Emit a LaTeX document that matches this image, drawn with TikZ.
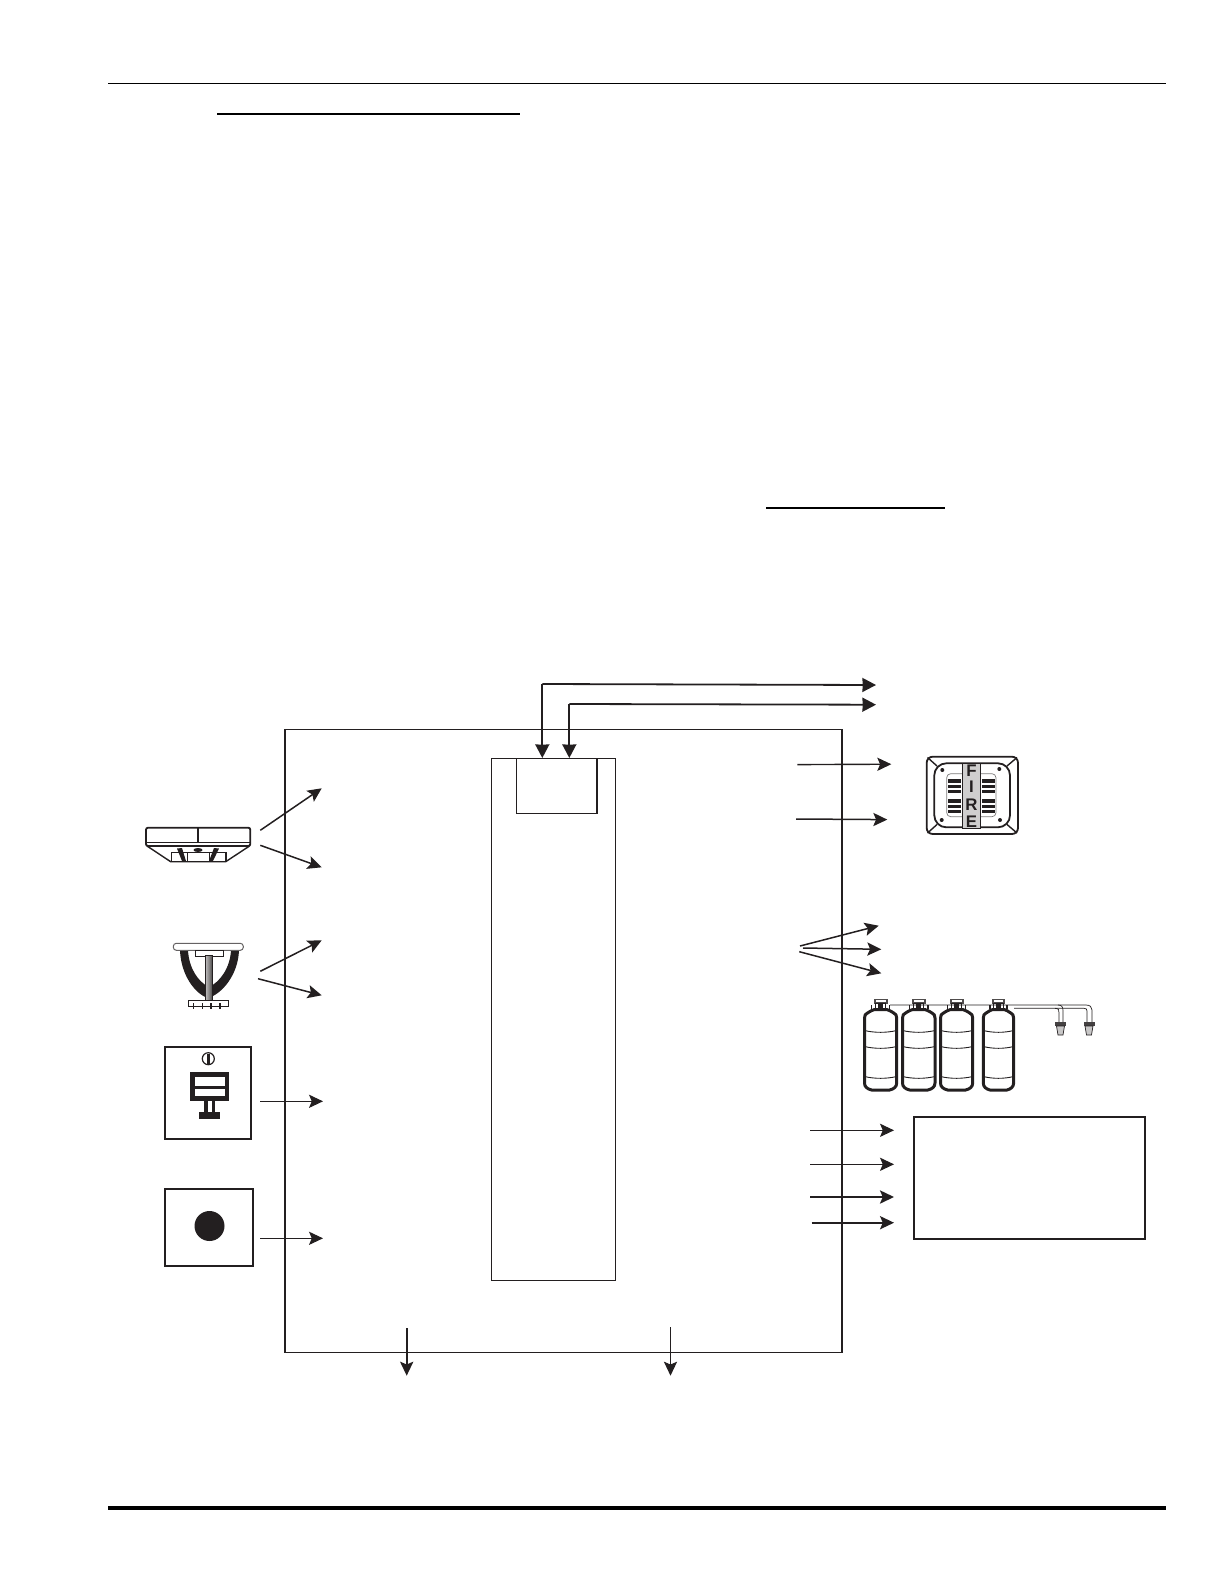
\documentclass[tikz,border=0pt]{standalone}
\usepackage{fontspec}
\setmainfont{Liberation Sans}
\usetikzlibrary{arrows.meta,calc}
\definecolor{ink}{HTML}{231F20}
\tikzset{
  boxa/.style={draw=ink,line width=1pt,fill=white,inner sep=0pt,anchor=north west},
  boxb/.style={draw=ink,line width=0.55pt,inner sep=0pt,anchor=north west},
  arr/.style={draw=ink,line width=0.55pt,-{Stealth[length=7pt,width=6.6pt,inset=1.4pt]}},
  arrb/.style={draw=ink,line width=0.9pt,-{Stealth[length=7pt,width=6.6pt,inset=1.4pt]}},
  arrbig/.style={draw=ink,line width=0.9pt,-{Stealth[length=6.8pt,width=7pt,inset=0.2pt]}},
  rulei/.style={draw=black,line width=1pt},
  lett/.style={font=\bfseries\fontsize{8.4}{8.4}\selectfont,text=ink,inner sep=0pt},
  tankl/.style={draw=ink,line width=1.5pt,line join=round},
  pipe/.style={draw=ink,line width=0.35pt},
}
\newcommand{\tankat}[2]{% left x, width
  \begin{scope}[shift={(#1,0)},x=#2*0.5pt/32]
    \draw[tankl] (3,1013) .. controls (6,1011) and (8,1010) .. (10,1009.5) -- (22,1009.5) .. controls (24,1010) and (26,1011) .. (29,1013) .. controls (31,1014) and (32,1015) .. (32,1018)
      -- (32,1083) .. controls (32,1087) and (29,1089) .. (25,1090) -- (7,1090) .. controls (3,1089) and (0,1087) .. (0,1083)
      -- (0,1018) .. controls (0,1015) and (1,1014) .. (3,1013) -- cycle;
    \foreach \yy in {1030.5,1046.5,1076.5}
      \draw[pipe,line width=.45pt] (0,\yy) .. controls (10,\yy+2.4) and (22,\yy+2.4) .. (32,\yy);
    \fill[ink!80] (9,999) rectangle (23,1003.5);
    \fill[white] (11,1000) rectangle (21,1001.6);
    \draw[draw=ink,line width=.6pt,fill=white] (11,1003.5) rectangle (21,1009);
    \fill[ink] (13.5,1003.5) rectangle (18.5,1009);
    \draw[draw=ink,line width=.6pt] (7,1005) -- (7,1009) (25,1005) -- (25,1009);
  \end{scope}}
\newcommand{\nozzleat}[1]{%
  \begin{scope}[shift={(#1,0)}]
    \fill[ink!85] (-5.5,1022) rectangle (5.5,1026);
    \draw[ink,line width=.35pt,fill=ink!25] (-4,1026) -- (-2.5,1035) -- (2.5,1035) -- (4,1026) -- cycle;
  \end{scope}}
\begin{document}
\begin{tikzpicture}[x=0.5pt,y=-0.5pt]
\useasboundingbox (0,0) rectangle (1224,1584);

% page rules
\coordinate (ra) at (108,83.3); \coordinate (rb) at (1166,83.3);
\draw[draw=black,line width=.6pt] (ra) -- (rb);
\coordinate (ua) at (217,113.7); \coordinate (ub) at (520,113.7);
\draw[rulei] (ua) -- (ub);
\coordinate (va) at (766,507.7); \coordinate (vb) at (945,507.7);
\draw[rulei] (va) -- (vb);
\coordinate (wa) at (108,1508); \coordinate (wb) at (1166,1508);
\draw[draw=black,line width=2.2pt] (wa) -- (wb);

% control panel
\node[boxb,minimum width=278pt,minimum height=311.5pt] (panel) at (285,729.3) {};
\draw[draw=ink,line width=1.2pt] (panel.north west) -- (panel.south west);
\draw[draw=ink,line width=1.1pt] (panel.north east) -- (panel.south east);
\node[boxb,minimum width=62pt,minimum height=260.7pt] (inner) at (490.7,758.3) {};
\node[boxb,minimum width=40.2pt,minimum height=27.5pt] (cpu) at (516,758.3) {};

% top arrows
\coordinate (t1a) at (542.3,758); \coordinate (t1b) at (876,685);
\coordinate (t2a) at (569.3,758); \coordinate (t2b) at (876,704.7);
\draw[arrbig] (542.3,684) -- (t1b);
\draw[arrbig] (542.3,684) -- (t1a);
\draw[arrbig] (569.3,704) -- (t2b);
\draw[arrbig] (569.3,704) -- (t2a);

% right arrows to horn
\coordinate (h1a) at (797.3,764.6); \coordinate (h1b) at (891.3,764.2);
\coordinate (h2a) at (796,819); \coordinate (h2b) at (887.3,819.6);
\draw[arrb,line width=.7pt] (h1a) -- (h1b);
\draw[arrb,line width=.75pt] (h2a) -- (h2b);

% fan
\coordinate (f1a) at (800,946); \coordinate (f1b) at (878.7,925.7);
\coordinate (f2a) at (803,948); \coordinate (f2b) at (881.3,949.3);
\coordinate (f3a) at (799.3,951.7); \coordinate (f3b) at (881.3,973.3);
\draw[arrb,line width=.75pt] (f1a) -- (f1b);
\draw[arrb,line width=.75pt] (f2a) -- (f2b);
\draw[arrb,line width=.75pt] (f3a) -- (f3b);

% right box and arrows
\node[boxa,minimum width=115.7pt,minimum height=61.2pt] (relay) at (912.6,1116) {};
\coordinate (r1a) at (810,1130.3); \coordinate (r1b) at (894,1130.3);
\coordinate (r2a) at (810,1164.3); \coordinate (r2b) at (894,1164.3);
\coordinate (r3a) at (810,1197); \coordinate (r3b) at (894,1197);
\coordinate (r4a) at (811.7,1222.7); \coordinate (r4b) at (894,1222.7);
\draw[arr] (r1a) -- (r1b);
\draw[arr] (r2a) -- (r2b);
\draw[arrb,line width=1.1pt] (r3a) -- (r3b);
\draw[arrb,line width=.8pt] (r4a) -- (r4b);

% bottom arrows
\coordinate (b1a) at (406.7,1328); \coordinate (b1b) at (406.7,1375.7);
\coordinate (b2a) at (670.5,1327); \coordinate (b2b) at (670.5,1375.7);
\draw[arrb] (b1a) -- (b1b);
\draw[arr] (b2a) -- (b2b);

% left arrows
\coordinate (d1a) at (260.3,830.3); \coordinate (d1b) at (321.7,788.3);
\coordinate (d2a) at (260.3,845.3); \coordinate (d2b) at (321.7,867.3);
\coordinate (s1a) at (260.3,971.3); \coordinate (s1b) at (321.7,940.3);
\coordinate (s2a) at (258,978.7); \coordinate (s2b) at (321.7,995.3);
\draw[arrb,line width=.75pt] (d1a) -- (d1b);
\draw[arrb,line width=.75pt] (d2a) -- (d2b);
\draw[arrb,line width=.75pt] (s1a) -- (s1b);
\draw[arrb,line width=.75pt] (s2a) -- (s2b);
\coordinate (p1a) at (260,1101.3); \coordinate (p1b) at (323,1101.3);
\coordinate (p2a) at (260,1238.3); \coordinate (p2b) at (323,1238.3);
\draw[arr] (p1a) -- (p1b);
\draw[arr] (p2a) -- (p2b);

% smoke detector
\draw[draw=ink,line width=.9pt,rounded corners=1pt] (146,827.7) rectangle (250.3,846);
\draw[draw=ink,line width=.8pt] (146,842.3) -- (250.3,842.3);
\draw[draw=ink,line width=1.1pt] (198,827.7) -- (198,842.3);
\draw[draw=ink,line width=.7pt] (147,846) -- (170.7,861.7) -- (225.7,861.7) -- (249.5,846);
\draw[draw=ink,line width=.7pt] (171.7,852.7) rectangle (226,861.7);
\draw[draw=ink,line width=.5pt] (187,852.7) -- (187,861.7) (209,852.7) -- (209,861.7);
\fill[ink] (177,848.5) -- (182,848) -- (186,861) -- (182,861) -- cycle;
\fill[ink] (219,848.5) -- (214,848) -- (209,861) -- (213,861) -- cycle;
\fill[ink] (198,850) ellipse[x radius=4.5,y radius=2];
\draw[draw=ink,line width=.3pt] (185,852) -- (211,852);

% sprinkler
\fill[ink] (180,950.5) .. controls (181,975) and (195,994) .. (208,998)
  .. controls (222,994) and (238,975) .. (239,950.5) -- (231,950.5)
  .. controls (230,968) and (220,982) .. (209,987)
  .. controls (198,982) and (189,968) .. (188,950.5) -- cycle;
\draw[draw=ink!70,line width=.5pt,fill=white,rounded corners=1.5pt] (173.3,943.3) rectangle (243.3,950.3);
\draw[draw=ink,line width=.5pt,fill=white] (195.3,950.3) rectangle (223.7,956.7);
\shade[left color=ink!30,right color=ink!85,middle color=ink!55] (205.3,955) rectangle (212.7,1001.3);
\draw[draw=ink,line width=.3pt] (205.3,955) rectangle (212.7,1001.3);
\draw[draw=ink,line width=.6pt,fill=white] (188.3,1000.3) rectangle (228.3,1006.7);
\foreach \xx in {193.3,202.3,210.7,220}
  \draw[draw=ink,line width=.8pt] (\xx,1003) -- (\xx,1008.5);

% pull station
\node[boxa,minimum width=43pt,minimum height=46.2pt] (pull) at (164.3,1046) {};
\draw[draw=ink,line width=.6pt] (208.3,1058.7) circle[radius=6];
\fill[ink] (206.5,1053.5) rectangle (210,1064);
\fill[ink] (190.3,1072) rectangle (229,1100.7);
\fill[white] (194.7,1077) rectangle (224.7,1085.7);
\fill[white] (194.7,1089) rectangle (224.7,1096.3);
\fill[ink] (203.7,1100.7) rectangle (215.3,1111.7);
\fill[white] (208.3,1100.7) rectangle (211.7,1111.7);
\fill[ink] (199,1111.7) rectangle (220,1118.7);

% button
\node[boxa,minimum width=44pt,minimum height=38.7pt] (btn) at (164.3,1188) {};
\fill[ink] (209.5,1226) circle[radius=15];

% horn
\draw[draw=ink,line width=.9pt,rounded corners=3pt] (926.7,756.7) rectangle (1018,834);
\draw[draw=ink,line width=.9pt,rounded corners=6pt] (934.3,763.3) rectangle (1010,827.3);
\draw[draw=ink,line width=.7pt] (927.5,757.5) -- (937,766) (1017,757.5) -- (1007,766)
   (927.5,833) -- (937,824.5) (1017,833) -- (1007,824.5);
\draw[draw=ink!60,line width=.35pt,rounded corners=2pt] (946.7,773.7) rectangle (996,816.7);
\foreach \ya/\yb in {779/782.6,785/787.8,790.3/793.4,799/802.6,804.8/807.8,810/813.4}{
  \fill[ink] (947.7,\ya) rectangle (960.7,\yb);
  \fill[ink] (981.7,\ya) rectangle (995,\yb);
}
\foreach \dx/\dy in {942.3/770,999.3/769,941.7/820,1000/820}
  \fill[ink] (\dx,\dy) circle[radius=2];
\draw[draw=ink,line width=.5pt,fill=ink!22] (962.3,763.3) rectangle (980.7,828.3);
\node[lett] (lf) at (971.5,770.5) {F};
\node[lett] (li) at (971.5,787) {I};
\node[lett] (lr) at (971.5,805) {R};
\node[lett] (le) at (971.5,821.5) {E};

% tanks
\tankat{864.5}{32.2}
\tankat{902.5}{32.5}
\tankat{940.5}{32.2}
\tankat{983.3}{30.3}
\draw[pipe] (890,1005) -- (1086,1005) .. controls (1090,1005) and (1092,1007) .. (1092,1010) -- (1092,1022);
\draw[pipe] (1014,1008.3) -- (1084,1008.3) .. controls (1086,1008.3) and (1087,1009) .. (1087,1011) -- (1087,1022);
\draw[pipe] (1055,1008.3) .. controls (1059,1008.5) and (1059,1010) .. (1059,1013) -- (1059,1022);
\draw[pipe] (1058,1005) .. controls (1062,1005) and (1063,1007) .. (1063,1011) -- (1063,1022);
\nozzleat{1060.5}
\nozzleat{1089}
\end{tikzpicture}
\end{document}
